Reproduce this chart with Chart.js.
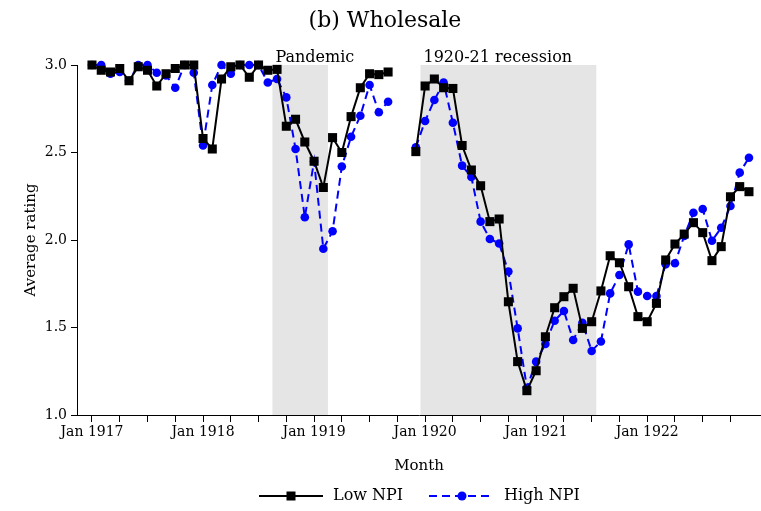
<!DOCTYPE html>
<html>
<head>
<meta charset="utf-8">
<script src="https://cdn.jsdelivr.net/npm/chart.js@4.4.1/dist/chart.umd.min.js"></script>
<style>
  html, body { margin: 0; padding: 0; background: #fff; }
  canvas { display: block; }
</style>
</head>
<body>
<canvas id="chart" width="761" height="511"></canvas>
<script>
// months counted from Jan 1917 (0) to Dec 1922 (71); Oct-Nov 1919 missing
const tickYears = ["Jan 1917", "Jan 1918", "Jan 1919", "Jan 1920", "Jan 1921", "Jan 1922"];

const lowNPI = [
  3.00, 2.97, 2.96, 2.98, 2.91, 2.99, 2.97, 2.88, 2.95, 2.98, 3.00, 3.00,
  2.58, 2.52, 2.92, 2.99, 3.00, 2.93, 3.00, 2.97, 2.975, 2.65, 2.69, 2.56,
  2.45, 2.30, 2.585, 2.50, 2.705, 2.87, 2.95, 2.945, 2.96, null, null, 2.505,
  2.88, 2.92, 2.87, 2.866, 2.54, 2.40, 2.31, 2.105, 2.12, 1.647, 1.305, 1.139,
  1.253, 1.447, 1.613, 1.676, 1.724, 1.495, 1.533, 1.709, 1.91, 1.87, 1.733, 1.562,
  1.533, 1.638, 1.886, 1.977, 2.034, 2.099, 2.042, 1.882, 1.962, 2.247, 2.305, 2.276
];

const highNPI = [
  3.00, 3.00, 2.95, 2.96, 2.91, 3.00, 3.00, 2.956, 2.94, 2.87, 3.00, 2.956,
  2.54, 2.886, 3.00, 2.95, 3.00, 3.00, 3.00, 2.90, 2.92, 2.815, 2.52, 2.13,
  2.45, 1.95, 2.05, 2.42, 2.59, 2.71, 2.886, 2.73, 2.79, null, null, 2.53,
  2.68, 2.80, 2.90, 2.67, 2.425, 2.36, 2.105, 2.006, 1.98, 1.82, 1.495, 1.156,
  1.305, 1.406, 1.539, 1.594, 1.429, 1.527, 1.366, 1.42, 1.695, 1.80, 1.975, 1.705,
  1.68, 1.68, 1.861, 1.867, 2.023, 2.156, 2.177, 1.996, 2.07, 2.194, 2.385, 2.47
];

// shaded periods, in month index
const periods = [
  { label: "Pandemic", from: 19.5, to: 25.5 },
  { label: "1920-21 recession", from: 35.5, to: 54.5 }
];

const FONT = "'DejaVu Serif', serif";

const toPoints = (arr) => arr.map((v, i) => ({ x: i, y: v }));

const extras = {
  id: "extras",
  beforeDraw(chart) {
    const { ctx, scales: { x, y } } = chart;
    ctx.save();
    ctx.fillStyle = "#e5e5e5";
    periods.forEach((p) => {
      const x0 = x.getPixelForValue(p.from);
      const x1 = x.getPixelForValue(p.to);
      const y0 = y.getPixelForValue(3.0);
      const y1 = y.getPixelForValue(1.0);
      ctx.fillRect(x0, y0, x1 - x0, y1 - y0);
    });
    ctx.restore();
  },
  afterDraw(chart) {
    const { ctx, scales: { x, y } } = chart;
    ctx.save();
    ctx.fillStyle = "#000";

    // title
    ctx.font = "22px " + FONT;
    ctx.textAlign = "center";
    ctx.textBaseline = "alphabetic";
    ctx.fillText("(b) Wholesale", 385, 27);

    // period labels
    ctx.font = "16px " + FONT;
    ctx.textAlign = "left";
    periods.forEach((p) => {
      ctx.fillText(p.label, x.getPixelForValue(p.from) + 3, 62);
    });

    // axis titles
    ctx.font = "15px " + FONT;
    ctx.textAlign = "center";
    ctx.textBaseline = "middle";
    ctx.fillText("Month", (chart.chartArea.left + chart.chartArea.right) / 2, 466);
    ctx.save();
    ctx.translate(31, (chart.chartArea.top + chart.chartArea.bottom) / 2);
    ctx.rotate(-Math.PI / 2);
    ctx.fillText("Average rating", 0, 0);
    ctx.restore();

    // legend
    const ly = 496;
    ctx.lineWidth = 2;
    ctx.strokeStyle = "#000";
    ctx.setLineDash([]);
    ctx.beginPath();
    ctx.moveTo(259, ly);
    ctx.lineTo(323, ly);
    ctx.stroke();
    ctx.fillRect(291 - 4.5, ly - 4.5, 9, 9);

    ctx.strokeStyle = "#0000ff";
    ctx.setLineDash([8, 5]);
    ctx.beginPath();
    ctx.moveTo(429, ly);
    ctx.lineTo(493, ly);
    ctx.stroke();
    ctx.setLineDash([]);
    ctx.fillStyle = "#0000ff";
    ctx.beginPath();
    ctx.arc(462, ly, 4.5, 0, Math.PI * 2);
    ctx.fill();

    ctx.fillStyle = "#000";
    ctx.font = "16px " + FONT;
    ctx.textAlign = "left";
    ctx.fillText("Low NPI", 333, ly);
    ctx.fillText("High NPI", 504, ly);
    ctx.restore();
  }
};

new Chart(document.getElementById("chart"), {
  type: "line",
  data: {
    datasets: [
      {
        label: "Low NPI",
        data: toPoints(lowNPI),
        borderColor: "#000",
        backgroundColor: "#000",
        borderWidth: 2,
        pointStyle: "rect",
        pointRadius: 6.4,
        pointBorderWidth: 0,
        spanGaps: false,
        clip: false,
        tension: 0
      },
      {
        label: "High NPI",
        data: toPoints(highNPI),
        borderColor: "#0000ff",
        backgroundColor: "#0000ff",
        borderWidth: 2,
        borderDash: [8, 5],
        pointStyle: "circle",
        pointRadius: 4.3,
        pointBorderWidth: 0,
        spanGaps: false,
        clip: false,
        tension: 0
      }
    ]
  },
  options: {
    responsive: false,
    animation: false,
    layout: { autoPadding: false, padding: { top: 65, left: 0, right: 0, bottom: 0 } },
    plugins: {
      legend: { display: false },
      title: { display: false },
      tooltip: { enabled: false }
    },
    scales: {
      x: {
        type: "linear",
        min: -1.62,
        max: 72.3,
        afterBuildTicks(scale) {
          const t = [];
          for (let v = 0; v <= 69; v += 3) t.push({ value: v });
          scale.ticks = t;
        },
        afterFit(scale) { scale.height = 96; },
        grid: { drawOnChartArea: false, drawTicks: true, tickLength: 7, color: "#000", lineWidth: 1 },
        border: { display: true, color: "#000", width: 1 },
        ticks: {
          autoSkip: false,
          maxRotation: 0,
          padding: 2,
          color: "#000",
          font: { family: FONT, size: 14 },
          callback: (v) => (v % 12 === 0 ? tickYears[v / 12] : "")
        }
      },
      y: {
        min: 1,
        max: 3,
        afterFit(scale) { scale.width = 77; },
        grid: { drawOnChartArea: false, drawTicks: true, tickLength: 6, color: "#000", lineWidth: 1 },
        border: { display: true, color: "#000", width: 1 },
        ticks: {
          stepSize: 0.5,
          padding: 4,
          color: "#000",
          font: { family: FONT, size: 14 },
          callback: (v) => v.toFixed(1)
        }
      }
    }
  },
  plugins: [extras]
});
</script>
</body>
</html>
